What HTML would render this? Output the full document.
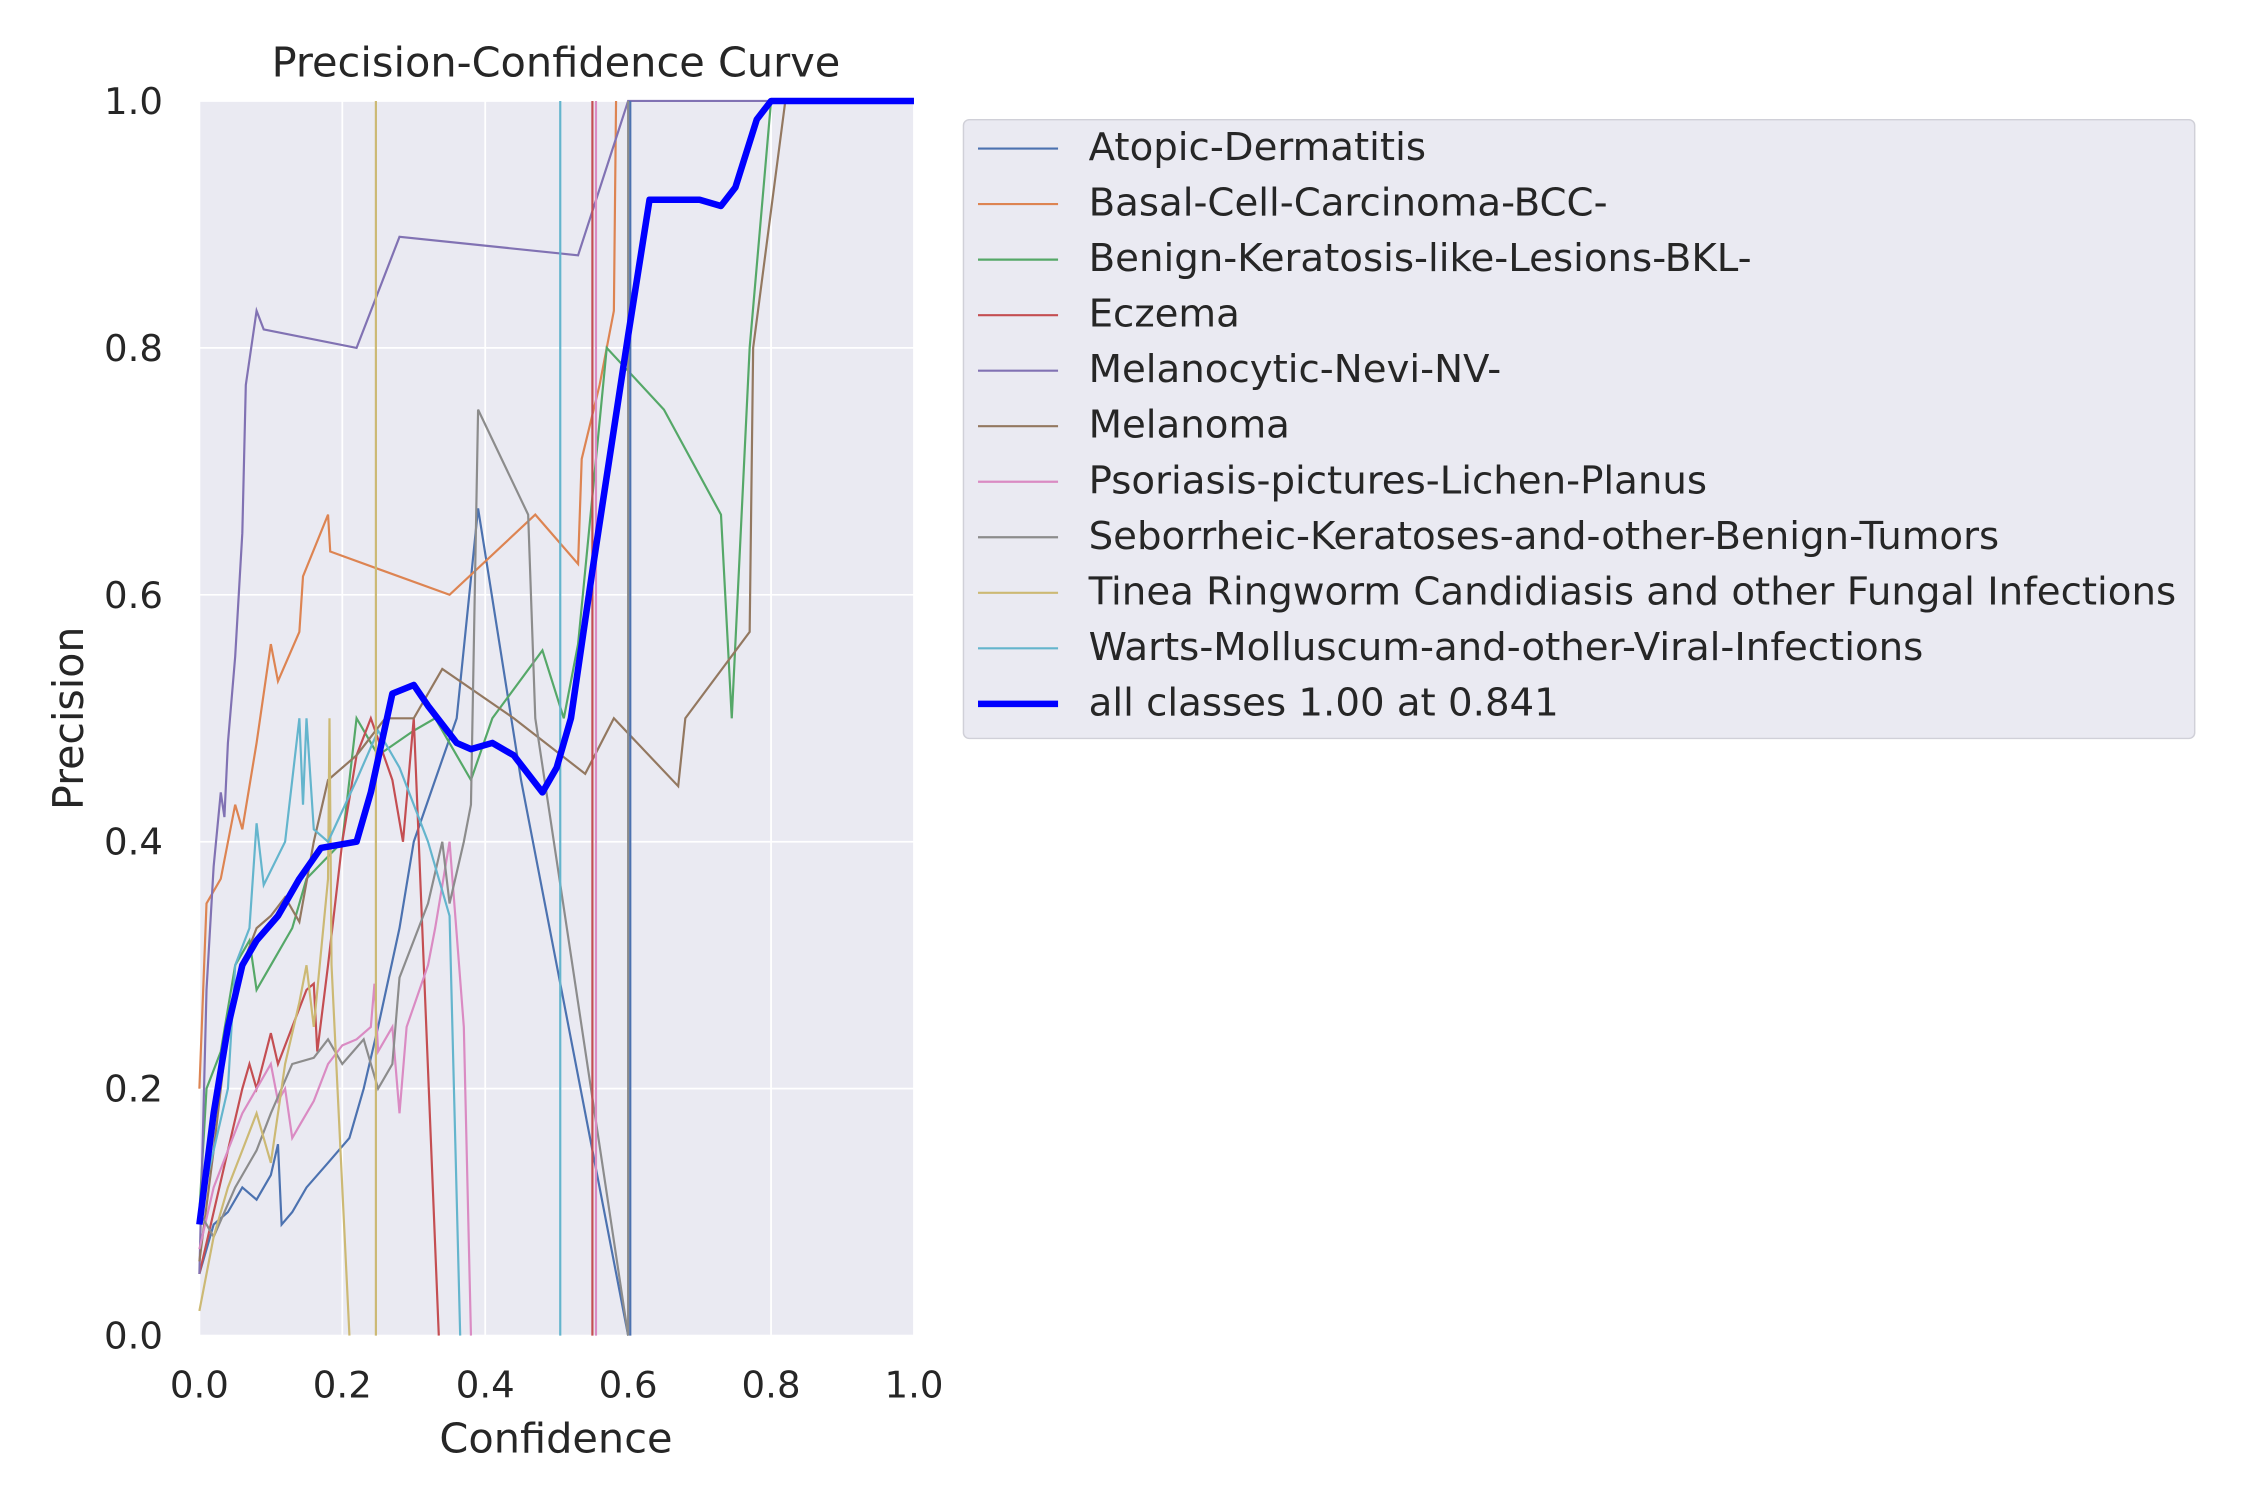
<!DOCTYPE html>
<html><head><meta charset="utf-8"><style>
html,body{margin:0;padding:0;background:#fff;}
svg{display:block;font-family:"DejaVu Sans","Liberation Sans",sans-serif;}
</style></head><body>
<svg id="chart" width="2250" height="1500" viewBox="0 0 1546 1040" preserveAspectRatio="none" xmlns="http://www.w3.org/2000/svg">
<rect x="137" y="70" width="491" height="856" fill="#eaeaf2"/>
<g id="grid"></g>
<g id="series"></g>
<g id="ticks"></g>
<text x="382" y="53" font-size="28.5" text-anchor="middle" fill="#262626">Precision-Confidence Curve</text>
<text x="382" y="1007" font-size="28.5" text-anchor="middle" fill="#262626">Confidence</text>
<text x="57" y="498" font-size="28.5" text-anchor="middle" fill="#262626" transform="rotate(-90 57 498)">Precision</text>
<g id="legend"></g>
</svg>
<script>
const names=["Atopic-Dermatitis","Basal-Cell-Carcinoma-BCC-","Benign-Keratosis-like-Lesions-BKL-","Eczema","Melanocytic-Nevi-NV-","Melanoma","Psoriasis-pictures-Lichen-Planus","Seborrheic-Keratoses-and-other-Benign-Tumors","Tinea Ringworm Candidiasis and other Fungal Infections","Warts-Molluscum-and-other-Viral-Infections"];
const colors=["#4c72b0","#dd8452","#55a868","#c44e52","#8172b3","#937860","#da8bc3","#8c8c8c","#ccb974","#64b5cd"];
const xTicks=[0,0.2,0.4,0.6,0.8,1.0];
const yTicks=[0,0.2,0.4,0.6,0.8,1.0];
const s0=[[0,0.05],[0.02,0.09],[0.04,0.1],[0.06,0.12],[0.08,0.11],[0.1,0.13],[0.11,0.155],[0.115,0.09],[0.13,0.1],[0.15,0.12],[0.18,0.14],[0.21,0.16],[0.23,0.2],[0.25,0.25],[0.28,0.33],[0.3,0.4],[0.33,0.45],[0.36,0.5],[0.39,0.67],[0.45,0.45],[0.6,0.0]];
const s1=[[0,0.2],[0.01,0.35],[0.03,0.37],[0.05,0.43],[0.06,0.41],[0.08,0.48],[0.1,0.56],[0.11,0.53],[0.14,0.57],[0.145,0.615],[0.18,0.665],[0.183,0.635],[0.35,0.6],[0.47,0.665],[0.53,0.625],[0.535,0.71],[0.56,0.77],[0.58,0.83],[0.583,1.0]];
const s2=[[0,0.1],[0.01,0.2],[0.03,0.23],[0.05,0.3],[0.07,0.32],[0.08,0.28],[0.1,0.3],[0.13,0.33],[0.15,0.37],[0.2,0.4],[0.22,0.5],[0.25,0.47],[0.3,0.49],[0.33,0.5],[0.38,0.45],[0.41,0.5],[0.48,0.555],[0.51,0.5],[0.53,0.56],[0.57,0.8],[0.65,0.75],[0.73,0.665],[0.745,0.5],[0.77,0.8],[0.8,1.0],[1,1]];
const s3=[[0,0.05],[0.02,0.1],[0.04,0.15],[0.06,0.2],[0.07,0.22],[0.08,0.2],[0.1,0.245],[0.11,0.22],[0.13,0.25],[0.15,0.28],[0.16,0.285],[0.165,0.23],[0.18,0.3],[0.2,0.4],[0.22,0.47],[0.24,0.5],[0.27,0.45],[0.285,0.4],[0.3,0.5],[0.335,0.0]];
const s4=[[0,0.05],[0.01,0.28],[0.02,0.38],[0.03,0.44],[0.035,0.42],[0.04,0.48],[0.05,0.55],[0.06,0.65],[0.065,0.77],[0.08,0.83],[0.09,0.815],[0.22,0.8],[0.28,0.89],[0.53,0.875],[0.6,1.0],[1,1]];
const s5=[[0,0.06],[0.02,0.15],[0.04,0.25],[0.06,0.3],[0.08,0.33],[0.1,0.34],[0.12,0.355],[0.14,0.335],[0.16,0.4],[0.18,0.45],[0.22,0.47],[0.26,0.5],[0.3,0.5],[0.34,0.54],[0.44,0.5],[0.54,0.455],[0.58,0.5],[0.67,0.445],[0.68,0.5],[0.77,0.57],[0.775,0.8],[0.82,1],[1,1]];
const s6=[[0,0.07],[0.02,0.12],[0.04,0.15],[0.06,0.18],[0.08,0.2],[0.1,0.22],[0.11,0.19],[0.12,0.2],[0.13,0.16],[0.14,0.17],[0.16,0.19],[0.18,0.22],[0.2,0.235],[0.22,0.24],[0.24,0.25],[0.245,0.285],[0.25,0.23],[0.27,0.25],[0.28,0.18],[0.29,0.25],[0.32,0.3],[0.33,0.33],[0.35,0.4],[0.37,0.25],[0.38,0.0]];
const s7=[[0,0.1],[0.02,0.08],[0.05,0.12],[0.08,0.15],[0.1,0.18],[0.13,0.22],[0.16,0.225],[0.18,0.24],[0.2,0.22],[0.23,0.24],[0.25,0.2],[0.27,0.22],[0.28,0.29],[0.32,0.35],[0.34,0.4],[0.35,0.35],[0.37,0.4],[0.38,0.43],[0.39,0.75],[0.46,0.665],[0.47,0.5],[0.6,0.0]];
const s8=[[0,0.02],[0.02,0.08],[0.04,0.12],[0.06,0.15],[0.08,0.18],[0.1,0.14],[0.12,0.22],[0.14,0.27],[0.15,0.3],[0.16,0.25],[0.18,0.37],[0.182,0.5],[0.185,0.3],[0.21,0.0]];
const s9=[[0,0.1],[0.02,0.15],[0.04,0.2],[0.05,0.3],[0.07,0.33],[0.08,0.415],[0.09,0.365],[0.12,0.4],[0.13,0.45],[0.14,0.5],[0.145,0.43],[0.15,0.5],[0.16,0.41],[0.18,0.4],[0.22,0.45],[0.25,0.49],[0.28,0.46],[0.32,0.4],[0.35,0.34],[0.365,0.0]];
const verticals=[[3,0.55],[6,0.555],[7,0.6],[8,0.247],[9,0.505],[0,0.603]];
const allClasses=[[0,0.09],[0.02,0.18],[0.04,0.25],[0.06,0.3],[0.08,0.32],[0.11,0.34],[0.14,0.37],[0.17,0.395],[0.22,0.4],[0.24,0.44],[0.27,0.52],[0.3,0.527],[0.32,0.51],[0.36,0.48],[0.38,0.475],[0.41,0.48],[0.44,0.47],[0.48,0.44],[0.5,0.46],[0.52,0.5],[0.55,0.62],[0.6,0.81],[0.63,0.92],[0.65,0.92],[0.7,0.92],[0.73,0.915],[0.75,0.93],[0.78,0.985],[0.8,1.0],[1,1]];
const series=[s0,s1,s2,s3,s4,s5,s6,s7,s8,s9];
const NS="http://www.w3.org/2000/svg";
const X0=137,X1=628,Y0=926,Y1=70;
const xs=v=>X0+(X1-X0)*v, ys=v=>Y0-(Y0-Y1)*v;
function mk(tag,attrs,parent){const e=document.createElementNS(NS,tag);for(const k in attrs)e.setAttribute(k,attrs[k]);parent.appendChild(e);return e;}
const grid=document.getElementById('grid'),ticks=document.getElementById('ticks'),sg=document.getElementById('series'),lg=document.getElementById('legend');
xTicks.forEach(t=>{const l=mk('line',{x1:xs(t),x2:xs(t),y1:Y1,y2:Y0,stroke:'#fff','stroke-width':1.2},grid);


const tx=mk('text',{x:xs(t),y:969,'font-size':25.5,'text-anchor':'middle',fill:'#262626'},ticks);tx.textContent=t.toFixed(1);

});
yTicks.forEach(t=>{const l=mk('line',{x1:X0,x2:X1,y1:ys(t),y2:ys(t),stroke:'#fff','stroke-width':1.2},grid);


const tx=mk('text',{x:112,y:ys(t)+9,'font-size':25.5,'text-anchor':'end',fill:'#262626'},ticks);tx.textContent=t.toFixed(1);

});
const pts=a=>a.map(p=>xs(p[0]).toFixed(1)+','+ys(p[1]).toFixed(1)).join(' ');
series.forEach((s,i)=>{const p=mk('polyline',{points:pts(s),fill:'none',stroke:colors[i],'stroke-width':1.5},sg);

});
verticals.forEach(v=>{const l=mk('line',{x1:xs(v[1]),x2:xs(v[1]),y1:ys(0),y2:ys(1),stroke:colors[v[0]],'stroke-width':1.5},sg);

});
const al=mk('polyline',{points:pts(allClasses),fill:'none',stroke:'#0000ff','stroke-width':4.5,'stroke-linejoin':'round'},sg);


const box=mk('rect',{x:662,y:83,width:846,height:429,rx:4,fill:'#eaeaf2',stroke:'#d0d0d8'},lg);


const labels=names.concat(['all classes 1.00 at 0.841']);
labels.forEach((n,i)=>{const y=103+i*38.5;const c=i<10?colors[i]:'#0000ff';
const l=mk('line',{x1:672,x2:727,y1:y,y2:y,stroke:c,'stroke-width':i<10?1.5:4.5},lg);


const t=mk('text',{x:748,y:y+8,'font-size':26.6,fill:'#262626'},lg);t.textContent=n;

});
</script>
</body></html>
